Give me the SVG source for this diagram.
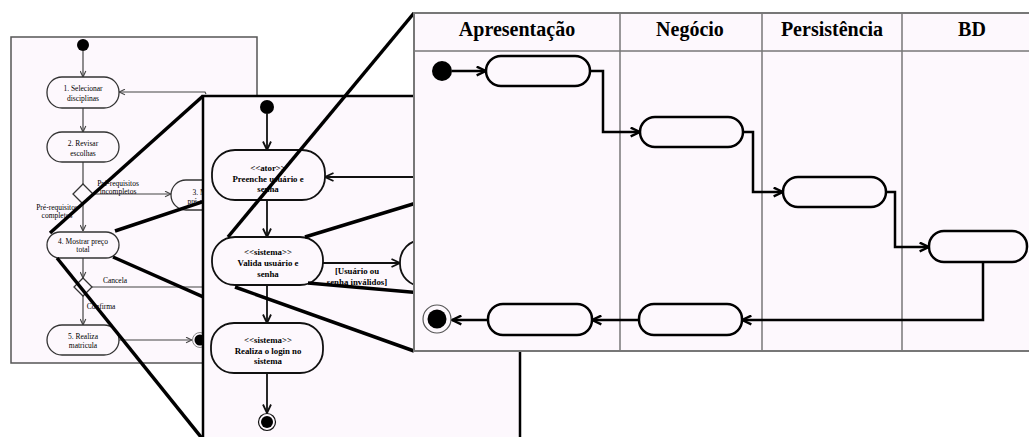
<svg xmlns="http://www.w3.org/2000/svg" width="1029" height="437" viewBox="0 0 1029 437">
<style>
text{font-family:"Liberation Serif","Times New Roman",serif;fill:#000}
.t1{font-size:7.5px;text-anchor:middle}
.t2{font-size:8.8px;font-weight:bold;text-anchor:middle}
.hd{font-size:20px;font-weight:bold;text-anchor:middle}
.panel{fill:#fdf8fd}
.n1{fill:#fdf8fd;stroke:#333;stroke-width:1.3}
.n2{fill:#fdf8fd;stroke:#111;stroke-width:1.8}
.n3{fill:#fdf8fd;stroke:#000;stroke-width:2.5}
.c1{fill:none;stroke:#444;stroke-width:1.2}
.c2{fill:none;stroke:#111;stroke-width:1.8}
.c3{fill:none;stroke:#000;stroke-width:2.5}
.zoomline{stroke:#000;stroke-width:3.5;fill:none}
.lane{stroke:#777;stroke-width:1.5}
</style>
<defs>
<marker id="a1" viewBox="0 0 10 10" refX="9.5" refY="5" markerWidth="7" markerHeight="7" markerUnits="userSpaceOnUse" orient="auto"><path d="M1,1 L9.5,5 L1,9" fill="none" stroke="#444" stroke-width="1.6"/></marker>
<marker id="a2" viewBox="0 0 10 10" refX="9.5" refY="5" markerWidth="10" markerHeight="10" markerUnits="userSpaceOnUse" orient="auto"><path d="M1,1 L9.5,5 L1,9" fill="none" stroke="#111" stroke-width="1.8"/></marker>
<marker id="a3" viewBox="0 0 10 10" refX="9.5" refY="5" markerWidth="11" markerHeight="11" markerUnits="userSpaceOnUse" orient="auto"><path d="M1,1 L9.5,5 L1,9" fill="none" stroke="#000" stroke-width="2.2"/></marker>
</defs>
<rect width="1029" height="437" fill="#fff"/>

<!-- LEFT PANEL -->
<g id="left-panel">
<rect x="11" y="37" width="246" height="326" class="panel" stroke="#555" stroke-width="1.5"/>
</g>
<g id="left-connectors">
<line x1="83" y1="51" x2="83" y2="77" class="c1" marker-end="url(#a1)"/>
<line x1="83" y1="108" x2="83" y2="132" class="c1" marker-end="url(#a1)"/>
<line x1="83" y1="162" x2="83" y2="184" class="c1"/>
<line x1="83" y1="204" x2="83" y2="231" class="c1" marker-end="url(#a1)"/>
<line x1="93" y1="194" x2="171" y2="194" class="c1" marker-end="url(#a1)"/>
<polyline points="206,94 205,92 119,92" class="c1" marker-end="url(#a1)"/>
<line x1="83" y1="258" x2="83" y2="278" class="c1" marker-end="url(#a1)"/>
<line x1="92" y1="287" x2="205" y2="287" class="c1"/>
<line x1="83" y1="296" x2="83" y2="325" class="c1" marker-end="url(#a1)"/>
<line x1="119" y1="340" x2="192" y2="340" class="c1" marker-end="url(#a1)"/>
</g>
<g id="l-start"><circle cx="83" cy="45" r="6" fill="#000"/></g>
<g id="l-n1"><rect x="47" y="77" width="72" height="31" rx="15" class="n1"/><text class="t1" x="83" y="90.5">1. Selecionar</text><text class="t1" x="83" y="100.5">disciplinas</text></g>
<g id="l-n2"><rect x="47" y="132" width="72" height="30" rx="15" class="n1"/><text class="t1" x="83" y="145.5">2. Revisar</text><text class="t1" x="83" y="155.5">escolhas</text></g>
<g id="l-d1"><polygon points="83,184 93,194 83,204 73,194" class="n1"/></g>
<g id="l-n3"><rect x="171" y="180" width="76" height="30" rx="15" class="n1"/><text class="t1" x="208" y="194.5">3. Mostrar</text><text class="t1" x="208" y="204">pré-requisitos</text></g>
<g id="l-n4"><rect x="47" y="232" width="72" height="26" rx="13" class="n1"/><text class="t1" x="83" y="243.5">4. Mostrar preço</text><text class="t1" x="83" y="251.5">total</text></g>
<g id="l-d2"><polygon points="83,278 92,287 83,296 74,287" class="n1"/></g>
<g id="l-n5"><rect x="47" y="325" width="72" height="30" rx="15" class="n1"/><text class="t1" x="83" y="338.5">5. Realiza</text><text class="t1" x="83" y="347.5">matricula</text></g>
<g id="l-end"><circle cx="200" cy="340" r="7.5" fill="#fdf8fd" stroke="#888" stroke-width="1"/><circle cx="200" cy="340" r="5.5" fill="#000"/></g>
<g id="l-labels">
<text class="t1" x="118" y="185.5">Pré-requisitos</text>
<text class="t1" x="118" y="193.5">incompletos</text>
<text class="t1" x="57" y="209.5">Pré-requisitos</text>
<text class="t1" x="57" y="217.5">completos</text>
<text class="t1" x="115" y="282.5">Cancela</text>
<text class="t1" x="101" y="308.5">Confirma</text>
</g>
<g id="zoom-lines-1">
<line x1="50" y1="233" x2="203" y2="96" class="zoomline"/>
<line x1="115" y1="231" x2="520" y2="96" class="zoomline"/>
<line x1="57" y1="258" x2="205" y2="442" class="zoomline"/>
<line x1="113" y1="257" x2="520" y2="437" class="zoomline"/>
</g>

<!-- MIDDLE PANEL -->
<g id="middle-panel">
<rect x="203" y="96" width="317" height="350" class="panel" stroke="#000" stroke-width="2.5"/>
</g>
<g id="middle-connectors">
<line x1="267" y1="114" x2="267" y2="150" class="c2" marker-end="url(#a2)"/>
<line x1="416" y1="177" x2="325" y2="177" class="c2" marker-end="url(#a2)"/>
<line x1="267" y1="200" x2="267" y2="237" class="c2" marker-end="url(#a2)"/>
<line x1="323" y1="263" x2="400" y2="263" class="c2" marker-end="url(#a2)"/>
<line x1="267" y1="285" x2="267" y2="323" class="c2" marker-end="url(#a2)"/>
<line x1="267" y1="373" x2="267" y2="413" class="c2" marker-end="url(#a2)"/>
</g>
<g id="m-start"><circle cx="267" cy="107" r="7" fill="#000"/></g>
<g id="m-n1"><rect x="212" y="150" width="113" height="50" rx="23" class="n2"/><text class="t2" x="268" y="171">&lt;&lt;ator&gt;&gt;</text><text class="t2" x="268" y="181.5">Preenche usuário e</text><text class="t2" x="268" y="192">senha</text></g>
<g id="m-n2"><rect x="212" y="237" width="111" height="48" rx="23" class="n2"/><text class="t2" x="268" y="255">&lt;&lt;sistema&gt;&gt;</text><text class="t2" x="268" y="266">Valida usuário e</text><text class="t2" x="268" y="277">senha</text></g>
<g id="m-n3"><rect x="400" y="240" width="90" height="46" rx="22" class="n2"/></g>
<g id="m-n4"><rect x="211" y="323" width="112" height="50" rx="23" class="n2"/><text class="t2" x="268" y="343">&lt;&lt;sistema&gt;&gt;</text><text class="t2" x="268" y="353.5">Realiza o login no</text><text class="t2" x="268" y="364">sistema</text></g>
<g id="m-end"><circle cx="267" cy="422" r="8.5" fill="#fdf8fd" stroke="#111" stroke-width="1.2"/><circle cx="267" cy="422" r="6" fill="#000"/></g>
<g id="m-labels">
<text class="t2" x="357" y="274">[Usuário ou</text>
<text class="t2" x="357" y="285">senha inválidos]</text>
</g>
<g id="zoom-lines-2">
<line x1="228" y1="237" x2="414" y2="13" class="zoomline"/>
<line x1="305" y1="237" x2="1029" y2="16" class="zoomline"/>
<line x1="235" y1="287" x2="414" y2="351" class="zoomline"/>
<line x1="308" y1="283" x2="1029" y2="346" class="zoomline"/>
</g>

<!-- RIGHT PANEL -->
<g id="right-panel">
<rect x="414" y="13" width="640" height="338" class="panel" stroke="#777" stroke-width="2"/>
<line x1="414" y1="51" x2="1029" y2="51" class="lane" stroke-width="2"/>
<line x1="620" y1="13" x2="620" y2="351" class="lane"/>
<line x1="762" y1="13" x2="762" y2="351" class="lane"/>
<line x1="902" y1="13" x2="902" y2="351" class="lane"/>
<text class="hd" x="517" y="36">Apresentação</text>
<text class="hd" x="690" y="36">Negócio</text>
<text class="hd" x="832" y="36">Persistência</text>
<text class="hd" x="972" y="36">BD</text>
</g>
<g id="right-connectors">
<line x1="452" y1="71" x2="486" y2="71" class="c3" marker-end="url(#a3)"/>
<polyline points="590,71 603,71 603,132 640,132" class="c3" marker-end="url(#a3)"/>
<polyline points="743,132 753,132 753,192 783,192" class="c3" marker-end="url(#a3)"/>
<polyline points="886,192 895,192 895,247 929,247" class="c3" marker-end="url(#a3)"/>
<polyline points="983,262 983,320 742,320" class="c3" marker-end="url(#a3)"/>
<line x1="639" y1="320" x2="592" y2="320" class="c3" marker-end="url(#a3)"/>
<line x1="488" y1="320" x2="452" y2="320" class="c3" marker-end="url(#a3)"/>
</g>
<g id="r-start"><circle cx="442" cy="71" r="10" fill="#000"/></g>
<g id="r-n1"><rect x="486" y="56" width="104" height="30" rx="15" class="n3"/></g>
<g id="r-n2"><rect x="640" y="117" width="103" height="30" rx="15" class="n3"/></g>
<g id="r-n3"><rect x="783" y="177" width="103" height="30" rx="15" class="n3"/></g>
<g id="r-n4"><rect x="929" y="231" width="98" height="31" rx="15" class="n3"/></g>
<g id="r-n5"><rect x="639" y="304" width="103" height="31" rx="15" class="n3"/></g>
<g id="r-n6"><rect x="488" y="304" width="104" height="31" rx="15" class="n3"/></g>
<g id="r-end"><circle cx="437" cy="319" r="14" fill="#fdf8fd" stroke="#555" stroke-width="1.2"/><circle cx="437" cy="319" r="9.5" fill="#000"/></g>
</svg>
